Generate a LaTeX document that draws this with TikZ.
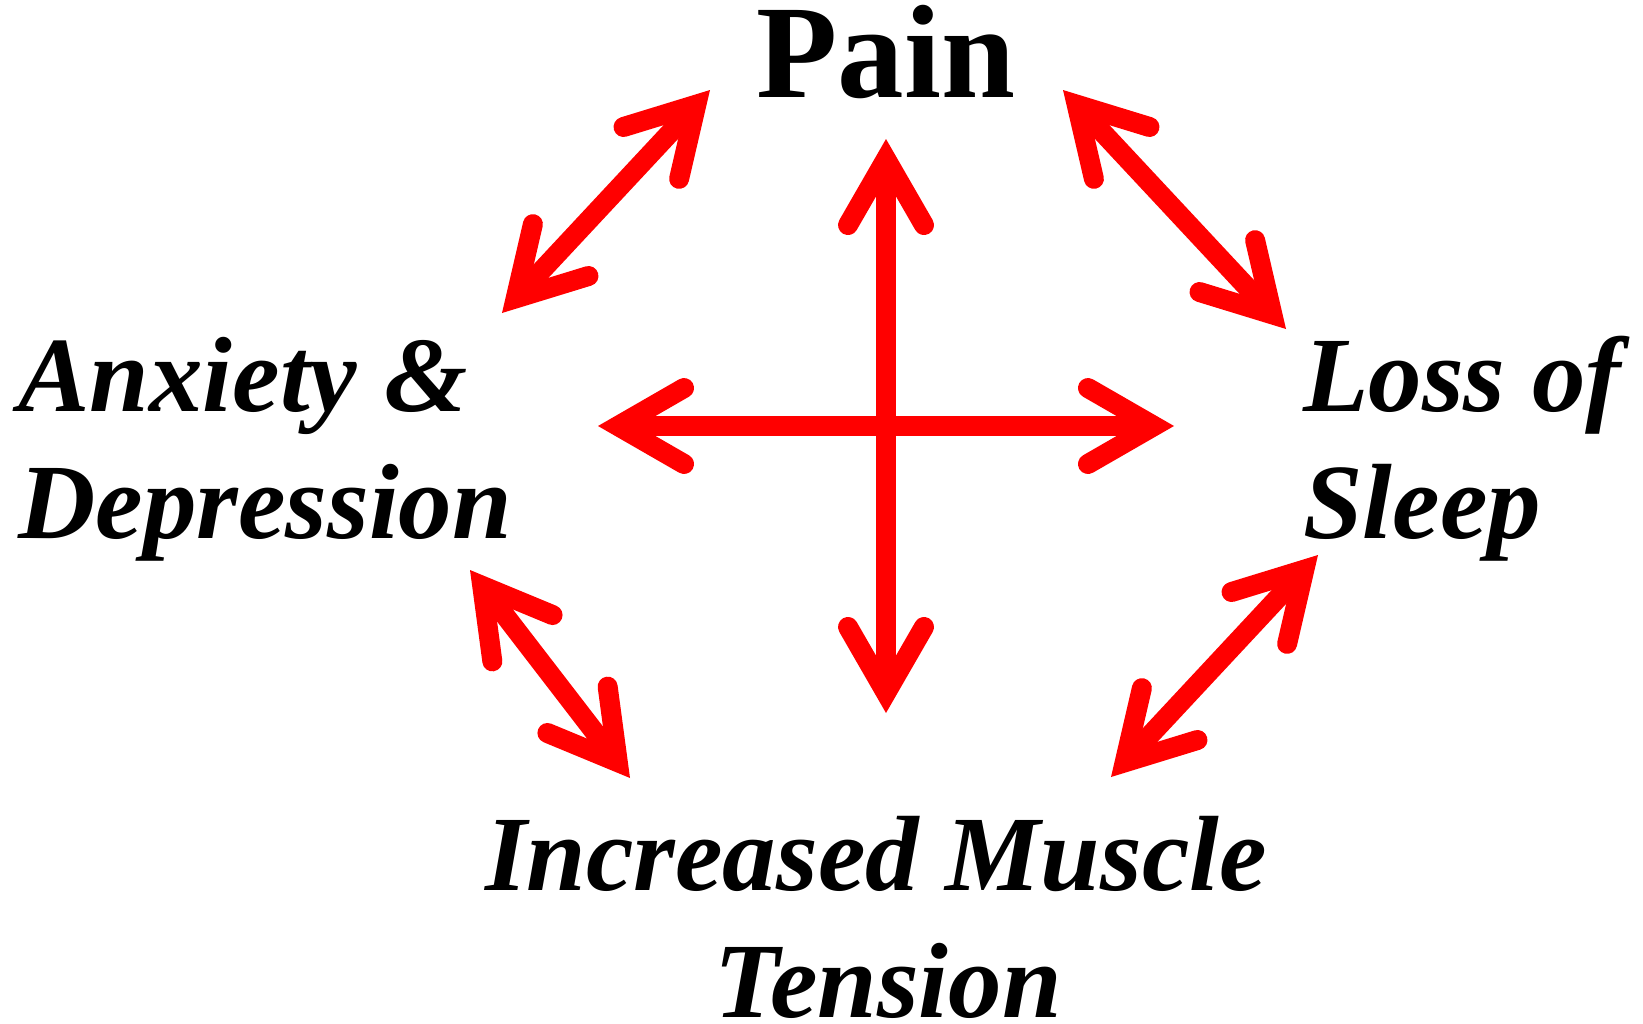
\documentclass[tikz,border=0pt]{standalone}
\usepackage{fontspec}
\setmainfont{Liberation Serif}
\usetikzlibrary{arrows.meta,positioning}

\begin{document}
\begin{tikzpicture}[
  x=0.5pt, y=-0.5pt,
  title/.style={inner sep=0pt, font=\fontsize{66.5pt}{80pt}\selectfont\bfseries},
  factor/.style={inner sep=0pt, font=\fontsize{53.5pt}{63.5pt}\selectfont\bfseries\itshape},
  arrow/.style={<->, draw=red, line width=10pt,
    >={Straight Barb[length=33pt, width=38pt, line cap=round, line join=miter]}}
]
\useasboundingbox (0,0) rectangle (1643,1023);
\node[title, anchor=base] (pain) at (886,97) {Pain};
\node[factor, anchor=base west, align=left] (anxiety) at (18,538) {Anxiety \&\\Depression};
\node[factor, anchor=base west, align=left] (sleep) at (1303,538) {Loss of\\Sleep};
\node[factor, anchor=base, align=center] (muscle) at (876,1017) {Increased Muscle\\\hspace*{12pt}Tension};
\coordinate (vtop) at (886,139);
\coordinate (vbot) at (886,713);
\coordinate (hleft) at (598,426);
\coordinate (hright) at (1174,426);
\coordinate (nwlow) at (502,313);
\coordinate (nwhigh) at (710,90);
\coordinate (nehigh) at (1063,90);
\coordinate (nelow) at (1286,329);
\coordinate (swhigh) at (470,570);
\coordinate (swlow) at (630,778);
\coordinate (selow) at (1111,777);
\coordinate (sehigh) at (1318,555);
\draw[arrow] (vtop) -- (vbot);
\draw[arrow] (hleft) -- (hright);
\draw[arrow] (nwlow) -- (nwhigh);
\draw[arrow] (nehigh) -- (nelow);
\draw[arrow] (swhigh) -- (swlow);
\draw[arrow] (selow) -- (sehigh);
\end{tikzpicture}
\end{document}
